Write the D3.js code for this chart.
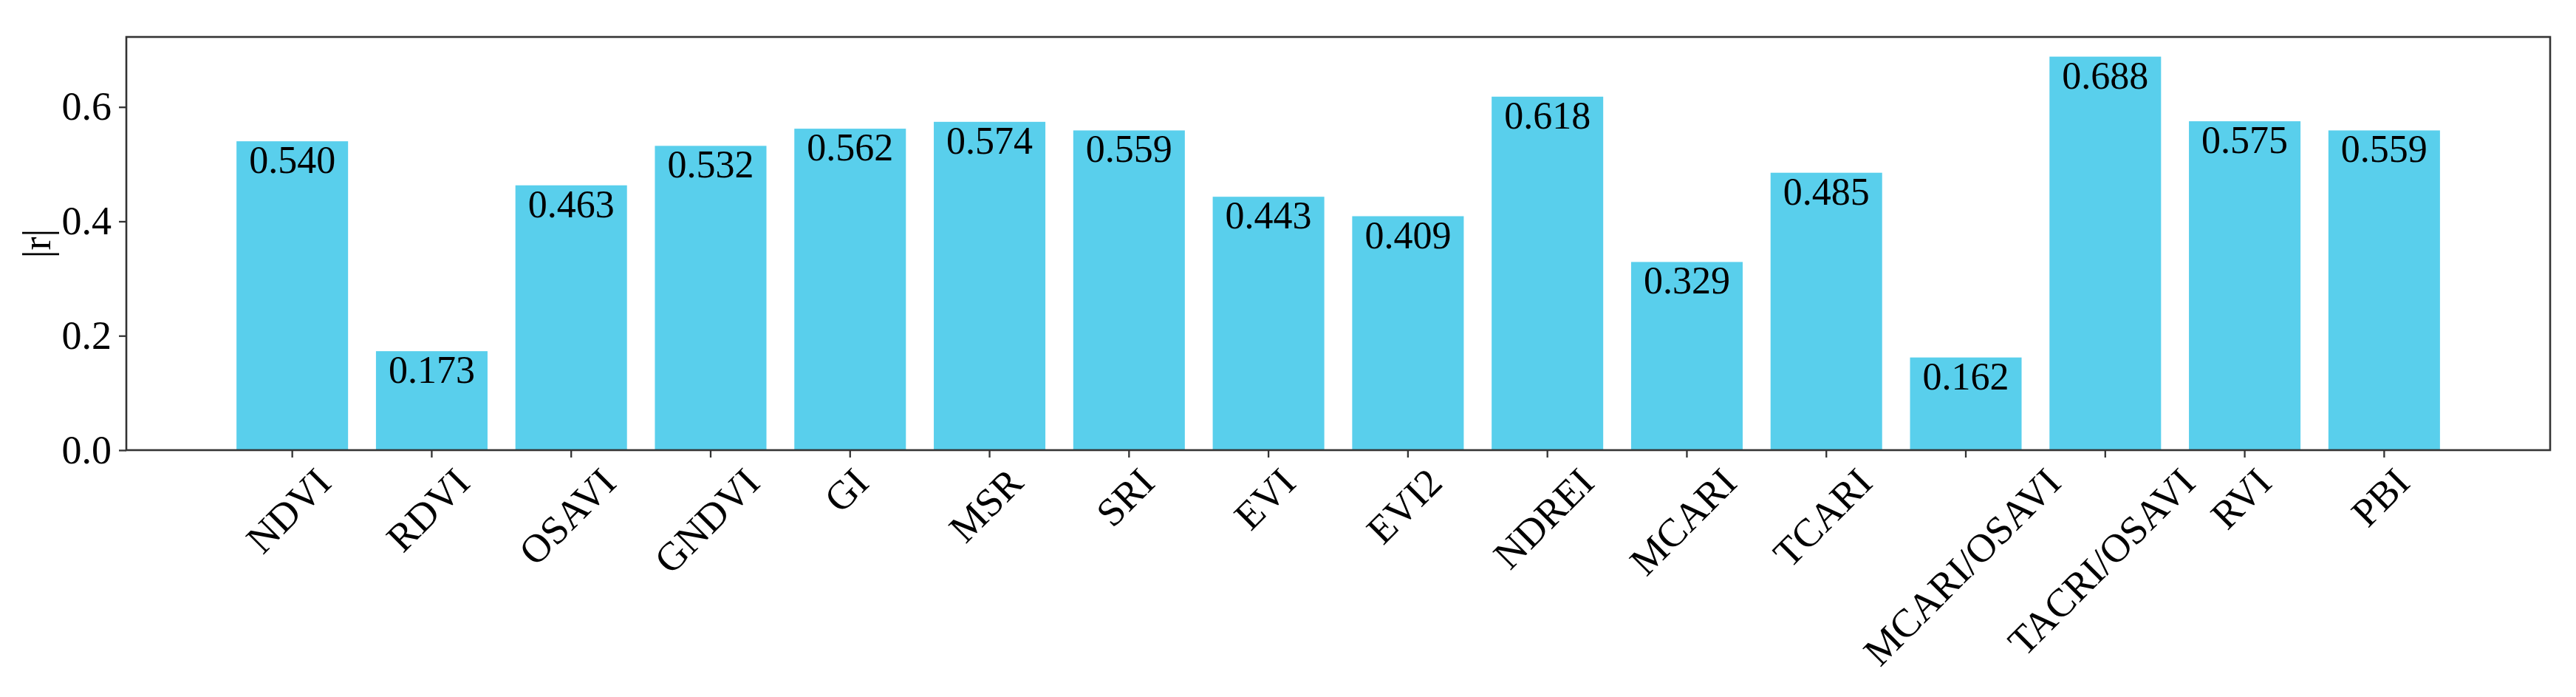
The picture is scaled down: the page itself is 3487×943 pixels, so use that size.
<!DOCTYPE html>
<html>
<head>
<meta charset="utf-8">
<script src="https://cdn.jsdelivr.net/npm/d3@7"></script>
<style>
  html, body { margin: 0; padding: 0; background: #fff; }
  svg { display: block; }
  text { font-family: "Liberation Serif", "Times New Roman", serif; fill: #000; }
</style>
</head>
<body>
<script>
const categories = ["NDVI", "RDVI", "OSAVI", "GNDVI", "GI", "MSR", "SRI", "EVI", "EVI2", "NDREI", "MCARI", "TCARI", "MCARI/OSAVI", "TACRI/OSAVI", "RVI", "PBI"];
const values = [0.540, 0.173, 0.463, 0.532, 0.562, 0.574, 0.559, 0.443, 0.409, 0.618, 0.329, 0.485, 0.162, 0.688, 0.575, 0.559];
const yTicks = [0.0, 0.2, 0.4, 0.6];
const yLabel = "|r|";

const W = 3487, H = 943;
const plot = { left: 171, right: 3452, top: 50, bottom: 609 };
const barColor = "#59cfec";
const tickFs = 54, valFs = 52;

const svg = d3.select("body").append("svg").attr("width", W).attr("height", H);

const x = d3.scaleBand().domain(categories).range([plot.left, plot.right])
  .paddingInner(0.2).paddingOuter(0.79);
const y = d3.scaleLinear().domain([0, d3.max(values) * 1.05]).range([plot.bottom, plot.top]);

// bars
svg.append("g").selectAll("rect").data(values).join("rect")
  .attr("x", (d, i) => x(categories[i]))
  .attr("y", d => y(d))
  .attr("width", x.bandwidth())
  .attr("height", d => y(0) - y(d))
  .attr("fill", barColor);

// value labels
svg.append("g").selectAll("text").data(values).join("text")
  .attr("x", (d, i) => x(categories[i]) + x.bandwidth() / 2)
  .attr("y", d => y(d) + 43)
  .attr("text-anchor", "middle")
  .attr("font-size", valFs)
  .text(d => d.toFixed(3));

// frame
svg.append("rect")
  .attr("x", plot.left).attr("y", plot.top)
  .attr("width", plot.right - plot.left).attr("height", plot.bottom - plot.top)
  .attr("fill", "none").attr("stroke", "#333").attr("stroke-width", 2.6);

// y axis
const yAxis = d3.axisLeft(y).tickValues(yTicks).tickFormat(d3.format(".1f")).tickSize(10).tickPadding(10);
const gy = svg.append("g").attr("transform", `translate(${plot.left},0)`).call(yAxis);
gy.select(".domain").remove();
gy.selectAll(".tick line").attr("stroke", "#333").attr("stroke-width", 2.3);
gy.selectAll(".tick text").attr("font-size", tickFs).attr("font-family", "Liberation Serif").attr("fill", "#000");

// x axis
const xAxis = d3.axisBottom(x).tickSize(10).tickPadding(10);
const gx = svg.append("g").attr("transform", `translate(0,${plot.bottom})`).call(xAxis);
gx.select(".domain").remove();
gx.selectAll(".tick line").attr("stroke", "#333").attr("stroke-width", 2.3);
gx.selectAll(".tick text")
  .attr("font-size", tickFs).attr("font-family", "Liberation Serif").attr("fill", "#000")
  .attr("text-anchor", "middle").attr("dominant-baseline", "central")
  .attr("dy", null)
  .each(function() {
    const t = d3.select(this);
    const w = this.getComputedTextLength();
    const cy = 20 + (w + 0.75 * tickFs) * Math.SQRT1_2 / 2;
    t.attr("y", cy).attr("x", -5).attr("transform", `rotate(-45,-5,${cy})`);
  });

// y label
svg.append("text")
  .attr("transform", `translate(50,${(plot.top + plot.bottom) / 2}) rotate(-90)`)
  .attr("text-anchor", "middle").attr("dominant-baseline", "central")
  .attr("font-size", tickFs)
  .text(yLabel);
</script>
</body>
</html>
